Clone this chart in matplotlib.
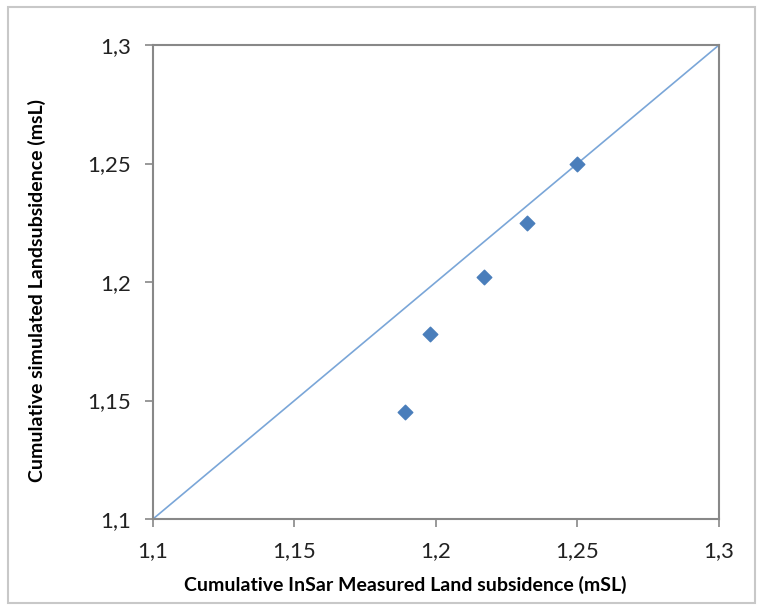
import matplotlib
matplotlib.use("Agg")
import matplotlib.pyplot as plt
from matplotlib.patches import Rectangle
from matplotlib.ticker import FuncFormatter

measured = [1.189, 1.198, 1.217, 1.232, 1.250]
simulated = [1.145, 1.178, 1.202, 1.225, 1.250]
line_x = [1.1, 1.3]
line_y = [1.1, 1.3]
ticks = [1.1, 1.15, 1.2, 1.25, 1.3]

plt.rcParams['font.family'] = ['Lato', 'DejaVu Sans']

fig = plt.figure(figsize=(7.63, 6.11), dpi=100)
fig.patches.append(Rectangle((8/763, 8/611), 747/763, 596/611, transform=fig.transFigure,
                             fill=False, edgecolor='#c8c8c8', linewidth=1.5))
ax = fig.add_axes([153/763, 1-519/611, 566/763, 474/611])

ax.plot(line_x, line_y, color='#7aa6d8', linewidth=1.2)
ax.scatter(measured, simulated, marker='D', s=55, color='#4a7ebb', zorder=3)

ax.set_xlim(1.1, 1.3)
ax.set_ylim(1.1, 1.3)
ax.set_xticks(ticks)
ax.set_yticks(ticks)
fmt = FuncFormatter(lambda v, p: f"{v:g}".replace('.', ','))
ax.xaxis.set_major_formatter(fmt)
ax.yaxis.set_major_formatter(fmt)
ax.tick_params(direction='out', length=6, width=1.2, color='#888888', labelsize=16, pad=10,
               labelcolor='#222222')
for s in ax.spines.values():
    s.set_color('#888888')
    s.set_linewidth(1.5)

ax.set_xlabel('Cumulative InSar Measured Land subsidence (mSL)', fontsize=14,
              fontweight='bold', va='center')
ax.xaxis.set_label_coords(0.445, -66/474)
ax.set_ylabel('Cumulative simulated Landsubsidence (msL)', fontsize=14,
              fontweight='bold', va='center')
ax.yaxis.set_label_coords(-116/566, 0.483)

fig.savefig('out.png', dpi=100)
